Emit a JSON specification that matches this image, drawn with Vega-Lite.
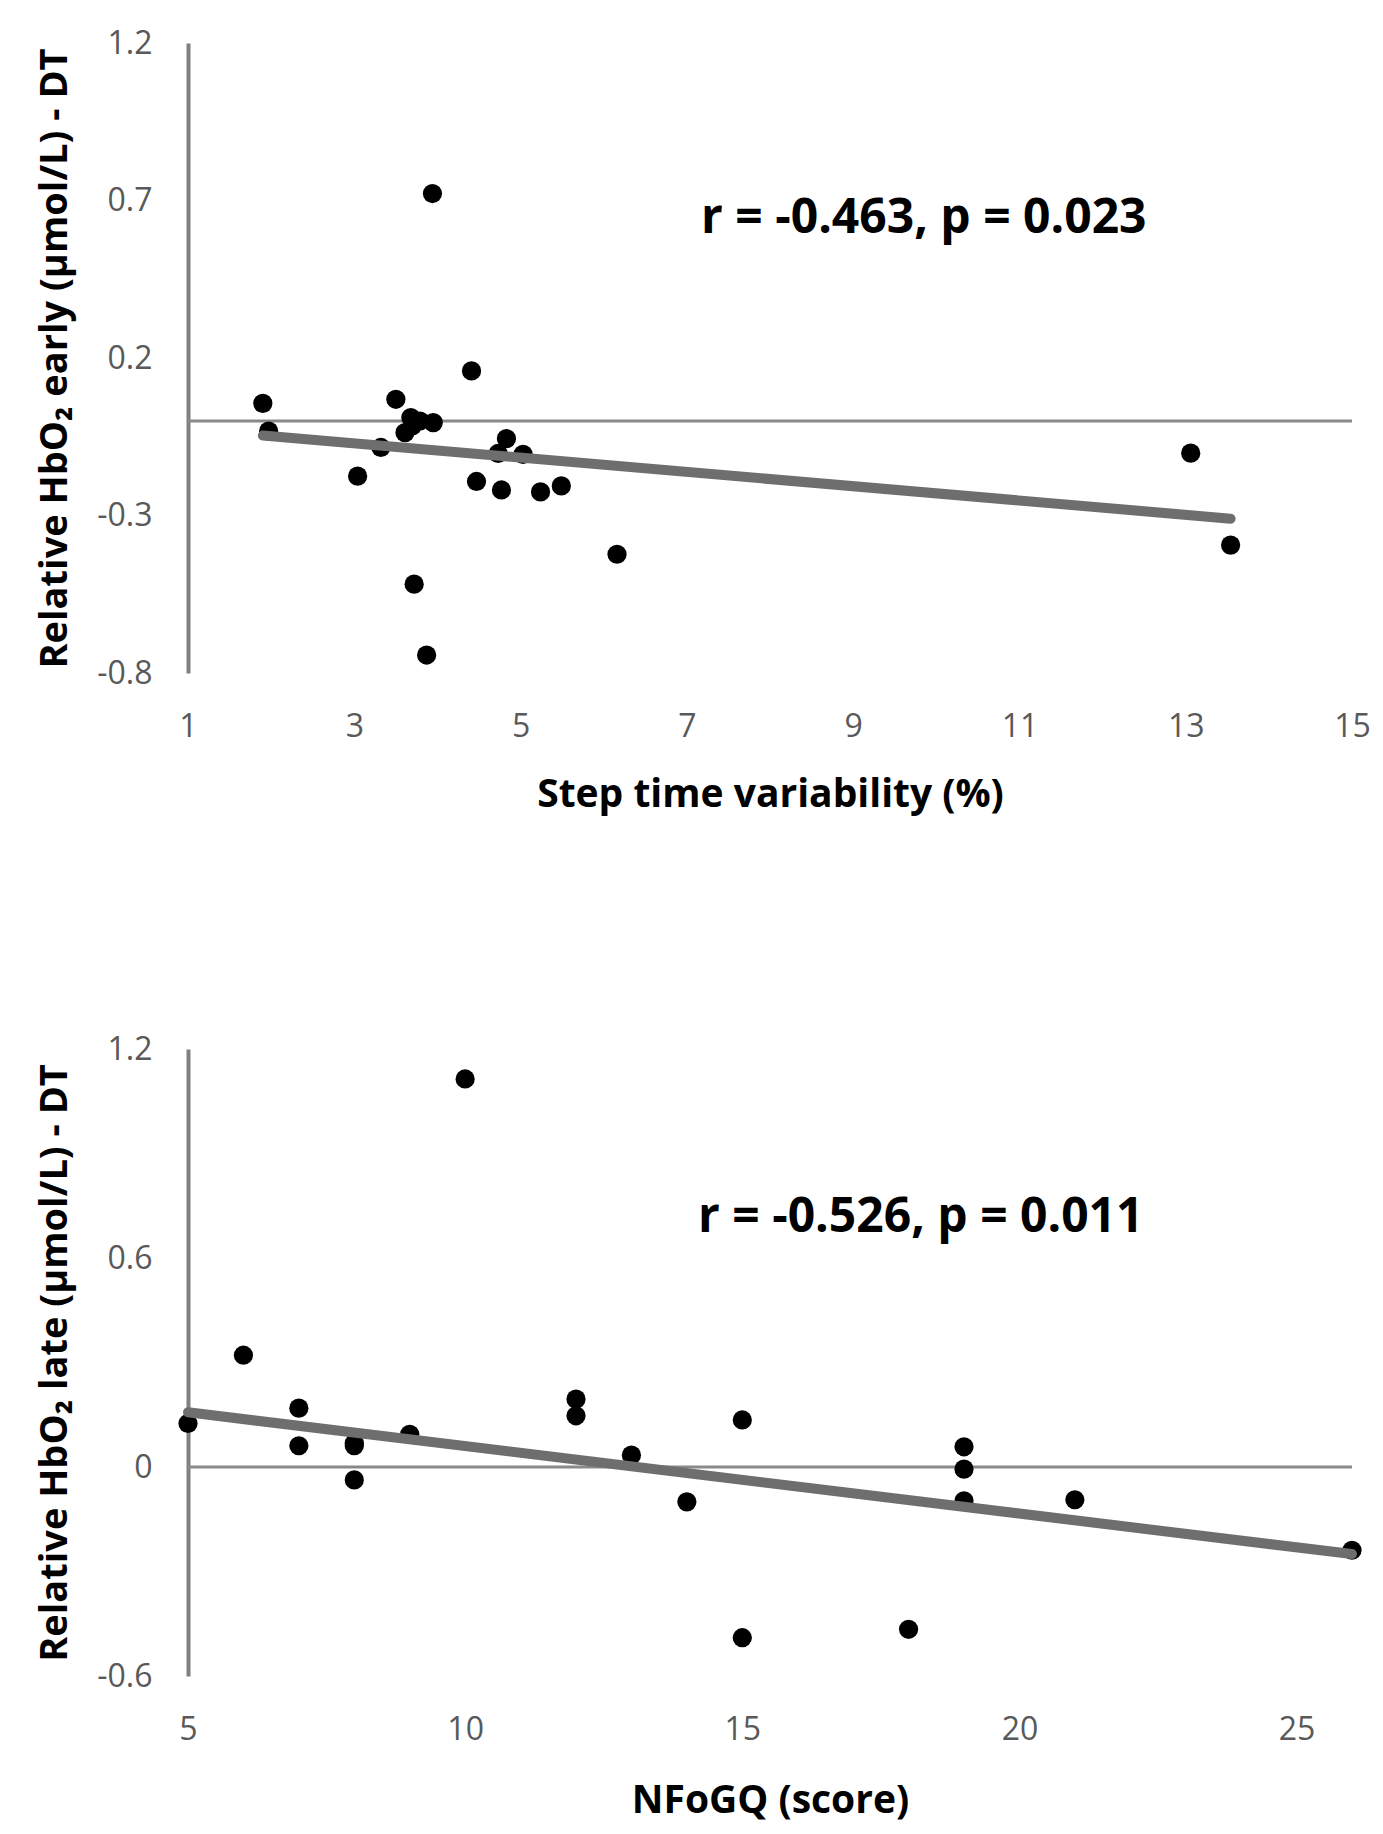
{
  "$schema": "https://vega.github.io/schema/vega-lite/v6.json",
  "background": "white",
  "padding": {"left": 36, "top": 27, "right": 10, "bottom": 10},
  "bounds": "flush",
  "spacing": 376,
  "config": {
    "view": {"stroke": null},
    "font": "Open Sans",
    "axis": {
      "grid": false,
      "ticks": false,
      "tickSize": 0,
      "labelFont": "Open Sans",
      "labelFontSize": 32,
      "labelColor": "#595959",
      "labelExpr": "toString(datum.value)",
      "titleFont": "Open Sans",
      "titleFontWeight": "bold",
      "titleColor": "#000000",
      "labelFlush": false,
      "labelOverlap": false
    },
    "axisX": {"domain": false, "labelPadding": 38, "titlePadding": 33, "titleFontSize": 39},
    "axisY": {"domain": true, "domainColor": "#808080", "domainWidth": 4, "labelPadding": 36, "titlePadding": 22, "titleFontSize": 38}
  },
  "vconcat": [
    {
      "width": 1164,
      "height": 630,
      "layer": [
        {
          "data": {"values": [{"zero": 0}]},
          "mark": {"type": "rule", "stroke": "#8a8a8a", "strokeWidth": 3},
          "encoding": {"y": {"field": "zero", "type": "quantitative"}}
        },
        {
          "data": {"values": [
            {"x": 3.94, "y": 0.722}, {"x": 4.41, "y": 0.159}, {"x": 1.90, "y": 0.056}, {"x": 1.97, "y": -0.032},
            {"x": 3.50, "y": 0.069}, {"x": 3.68, "y": 0.011}, {"x": 3.61, "y": -0.037}, {"x": 3.79, "y": 0.0},
            {"x": 3.95, "y": -0.005}, {"x": 3.70, "y": -0.015}, {"x": 3.32, "y": -0.084}, {"x": 3.04, "y": -0.175},
            {"x": 4.83, "y": -0.056}, {"x": 4.73, "y": -0.103}, {"x": 5.03, "y": -0.106}, {"x": 4.47, "y": -0.192},
            {"x": 4.77, "y": -0.219}, {"x": 5.24, "y": -0.225}, {"x": 5.49, "y": -0.206}, {"x": 6.16, "y": -0.423},
            {"x": 3.72, "y": -0.518}, {"x": 3.87, "y": -0.743}, {"x": 13.06, "y": -0.102}, {"x": 13.54, "y": -0.394}
          ]},
          "mark": {"type": "circle", "size": 370, "color": "#000000", "opacity": 1},
          "encoding": {
            "x": {"field": "x", "type": "quantitative", "scale": {"domain": [1, 15], "nice": false, "zero": false},
                  "axis": {"values": [1, 3, 5, 7, 9, 11, 13, 15], "title": "Step time variability (%)"}},
            "y": {"field": "y", "type": "quantitative", "scale": {"domain": [-0.8, 1.2], "nice": false, "zero": false},
                  "axis": {"values": [-0.8, -0.3, 0.2, 0.7, 1.2], "title": "Relative HbO₂ early (μmol/L) - DT"}}
          }
        },
        {
          "data": {"values": [{"x": 1.90, "y": -0.046}, {"x": 13.54, "y": -0.31}]},
          "mark": {"type": "line", "stroke": "#6e6e6e", "strokeWidth": 10, "strokeCap": "round"},
          "encoding": {
            "x": {"field": "x", "type": "quantitative"},
            "y": {"field": "y", "type": "quantitative"}
          }
        },
        {
          "data": {"values": [{"label": "r = -0.463, p = 0.023"}]},
          "mark": {"type": "text", "font": "Open Sans", "fontWeight": "bold", "fontSize": 48, "align": "center", "baseline": "middle", "color": "#000000"},
          "encoding": {
            "text": {"field": "label"},
            "x": {"datum": 9.85},
            "y": {"datum": 0.64}
          }
        }
      ]
    },
    {
      "width": 1164,
      "height": 627,
      "layer": [
        {
          "data": {"values": [{"zero": 0}]},
          "mark": {"type": "rule", "stroke": "#8a8a8a", "strokeWidth": 3},
          "encoding": {"y": {"field": "zero", "type": "quantitative"}}
        },
        {
          "data": {"values": [
            {"x": 5, "y": 0.125}, {"x": 6, "y": 0.321}, {"x": 7, "y": 0.169}, {"x": 7, "y": 0.061},
            {"x": 8, "y": 0.061}, {"x": 8, "y": 0.068}, {"x": 8, "y": -0.037}, {"x": 9, "y": 0.094},
            {"x": 10, "y": 1.114}, {"x": 12, "y": 0.195}, {"x": 12, "y": 0.147}, {"x": 13, "y": 0.034},
            {"x": 14, "y": -0.1}, {"x": 15, "y": 0.135}, {"x": 15, "y": -0.49}, {"x": 18, "y": -0.466},
            {"x": 19, "y": 0.058}, {"x": 19, "y": -0.006}, {"x": 19, "y": -0.097}, {"x": 21, "y": -0.094},
            {"x": 26, "y": -0.239}
          ]},
          "mark": {"type": "circle", "size": 370, "color": "#000000", "opacity": 1},
          "encoding": {
            "x": {"field": "x", "type": "quantitative", "scale": {"domain": [5, 26], "nice": false, "zero": false},
                  "axis": {"values": [5, 10, 15, 20, 25], "title": "NFoGQ (score)", "titlePadding": 36}},
            "y": {"field": "y", "type": "quantitative", "scale": {"domain": [-0.6, 1.2], "nice": false, "zero": false},
                  "axis": {"values": [-0.6, 0, 0.6, 1.2], "title": "Relative HbO₂ late (μmol/L) - DT"}}
          }
        },
        {
          "data": {"values": [{"x": 5, "y": 0.157}, {"x": 26, "y": -0.25}]},
          "mark": {"type": "line", "stroke": "#6e6e6e", "strokeWidth": 10, "strokeCap": "round"},
          "encoding": {
            "x": {"field": "x", "type": "quantitative"},
            "y": {"field": "y", "type": "quantitative"}
          }
        },
        {
          "data": {"values": [{"label": "r = -0.526, p = 0.011"}]},
          "mark": {"type": "text", "font": "Open Sans", "fontWeight": "bold", "fontSize": 48, "align": "center", "baseline": "middle", "color": "#000000"},
          "encoding": {
            "text": {"field": "label"},
            "x": {"datum": 18.22},
            "y": {"datum": 0.715}
          }
        }
      ]
    }
  ]
}
